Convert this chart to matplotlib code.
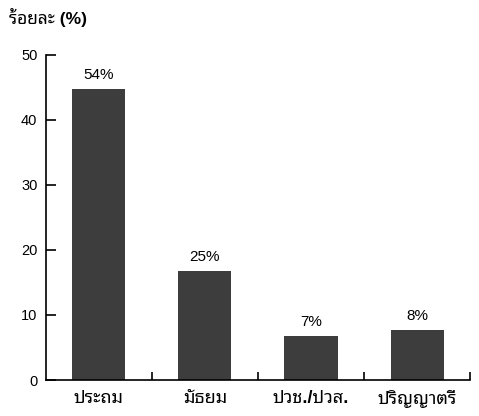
import matplotlib
matplotlib.use("Agg")
import matplotlib.pyplot as plt

# education level vs share of respondents
levels = ["ประถม", "มัธยม", "ปวช./ปวส.", "ปริญญาตรี"]
heights = [44.7, 16.8, 6.8, 7.7]
labels = ["54%", "25%", "7%", "8%"]
y_ticks = [0, 10, 20, 30, 40, 50]

fams = ["Liberation Sans", "Noto Sans Thai Looped"]
plt.rcParams["font.family"] = fams

fig = plt.figure(figsize=(4.79, 4.16), dpi=100)
ax = fig.add_axes([0.0955, 0.0865, 0.886, 0.782])

x = list(range(1, len(levels) + 1))
bars = ax.bar(x, heights, width=0.5, color="#3d3d3d")

# value labels above bars
for xi, h, lab in zip(x, heights, labels):
    ax.annotate(lab, (xi, h), xytext=(0, 5), textcoords="offset points",
                ha="center", va="bottom", fontsize=11)

ax.set_xlim(0.5, 4.5)
ax.set_ylim(0, 50)
ax.set_yticks(y_ticks)
ax.tick_params(axis="y", direction="in", length=7, width=1.2, labelsize=10.5, pad=6)

# ticks between categories, labels centred under the bars
ax.set_xticks([1.5, 2.5, 3.5, 4.5])
ax.set_xticklabels([])
ax.set_xticks(x, minor=True)
ax.set_xticklabels(levels, minor=True, fontsize=13, fontweight="bold")
ax.tick_params(axis="x", which="major", direction="in", length=6, width=1.2)
ax.tick_params(axis="x", which="minor", length=0, pad=7)

for s in ["top", "right"]:
    ax.spines[s].set_visible(False)
for s in ["left", "bottom"]:
    ax.spines[s].set_linewidth(1.2)

fig.text(0.019, 0.958, "ร้อยละ (%)", fontsize=12.5, fontweight="bold", va="center", ha="left")

fig.savefig("out.png")
